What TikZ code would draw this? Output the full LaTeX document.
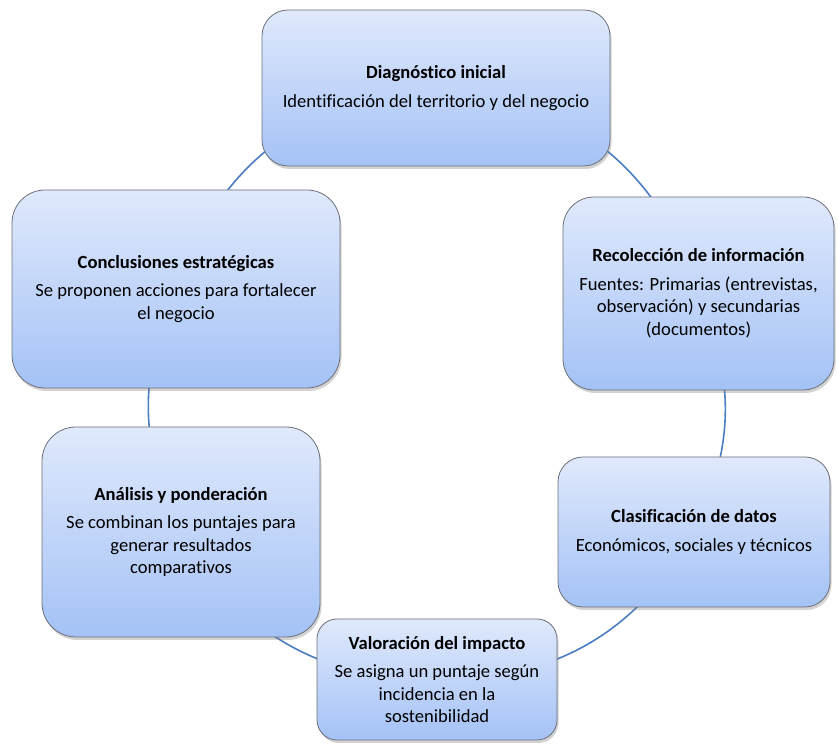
\documentclass[tikz,border=0pt]{standalone}
\usepackage{fontspec}
\setmainfont{Carlito}[Ligatures = NoCommon]
\usetikzlibrary{shadows, backgrounds}
\definecolor{boxtop}{RGB}{224,233,252}
\definecolor{boxbot}{RGB}{164,194,246}
\definecolor{boxline}{RGB}{108,112,120}
\definecolor{linkblue}{RGB}{74,126,193}
\tikzset{
  Box1/.style = {
    draw = boxline, line width = 0.8pt,
    top color = boxtop, bottom color = boxbot,
    drop shadow = {shadow xshift = 1.5pt, shadow yshift = -3pt, opacity = 0.35},
    align = center, inner sep = 0pt,
    font = \fontsize{18.6}{22.5}\selectfont,
  },
  Link1/.style = {
    draw = linkblue, line width = 1.6pt,
  }
}

\begin{document}
\begin{tikzpicture}[x = 1pt, y = 1pt]
  \useasboundingbox (0,0) rectangle (838,744);
  \node[Box1, rounded corners = 26pt, minimum width = 348pt, minimum height = 156pt]
    (diag) at (436,656) {\textbf{Diagnóstico inicial}\\[6pt]Identificación del territorio y del negocio};
  \node[Box1, rounded corners = 31pt, minimum width = 271pt, minimum height = 193pt]
    (recol) at (698.5,450.5) {\textbf{Recolección de información}\\[6pt]Fuentes: Primarias (entrevistas,\\observación) y secundarias\\(documentos)};
  \node[Box1, rounded corners = 25pt, minimum width = 272pt, minimum height = 150pt]
    (clasif) at (694,212) {\textbf{Clasificación de datos}\\[6pt]Económicos, sociales y técnicos};
  \node[Box1, rounded corners = 20pt, minimum width = 240pt, minimum height = 121pt]
    (valor) at (437,64.5) {\textbf{Valoración del impacto}\\[6pt]Se asigna un puntaje según\\incidencia en la\\sostenibilidad};
  \node[Box1, rounded corners = 34pt, minimum width = 278pt, minimum height = 210pt]
    (anal) at (181,212) {\textbf{Análisis y ponderación}\\[6pt]Se combinan los puntajes para\\generar resultados\\comparativos};
  \node[Box1, rounded corners = 33pt, minimum width = 328pt, minimum height = 198pt]
    (concl) at (176,455) {\textbf{Conclusiones estratégicas}\\[6pt]Se proponen acciones para fortalecer\\el negocio};
  % cycle links behind the boxes
  \begin{scope}[on background layer]
    \draw[Link1] (diag.center) to[bend left = 35] (recol.center)
      to[bend left = 24.5] (clasif.center)
      to[bend left = 30.7] (valor.center)
      to[bend left = 30.6] (anal.center)
      to[bend left = 25] (concl.center)
      to[bend left = 34.4] (diag.center);
  \end{scope}
\end{tikzpicture}
\end{document}
